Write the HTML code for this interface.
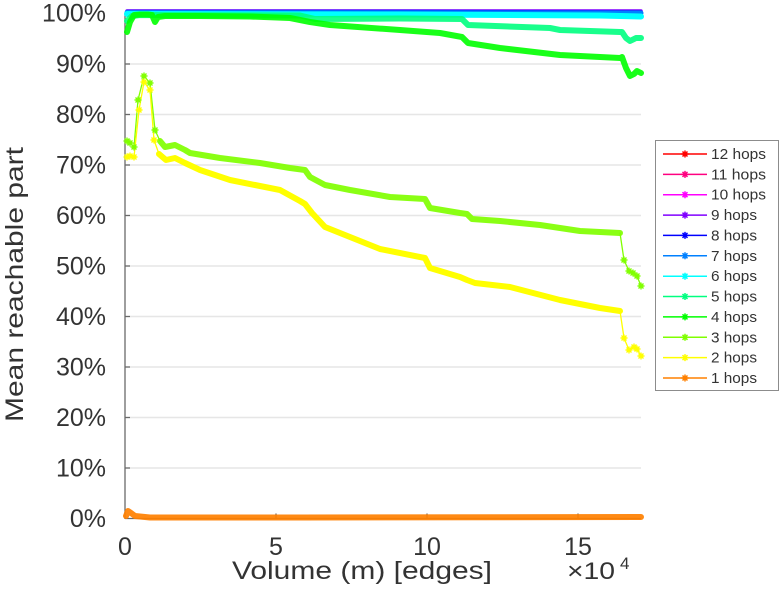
<!DOCTYPE html>
<html>
<head>
<meta charset="utf-8">
<style>
html,body{margin:0;padding:0;background:#fff;}
svg{display:block;font-family:"Liberation Sans",Arial,sans-serif;}
</style>
</head>
<body>
<svg width="781" height="600" viewBox="0 0 781 600" xmlns="http://www.w3.org/2000/svg">
<rect x="0" y="0" width="781" height="600" fill="#fff"/>
<!-- gridlines -->
<g stroke="#e6e6e6" stroke-width="1.5">
<line x1="125" y1="13.5" x2="641" y2="13.5"/>
<line x1="125" y1="64" x2="641" y2="64"/>
<line x1="125" y1="114.5" x2="641" y2="114.5"/>
<line x1="125" y1="165" x2="641" y2="165"/>
<line x1="125" y1="215.5" x2="641" y2="215.5"/>
<line x1="125" y1="266" x2="641" y2="266"/>
<line x1="125" y1="316.5" x2="641" y2="316.5"/>
<line x1="125" y1="367" x2="641" y2="367"/>
<line x1="125" y1="417.5" x2="641" y2="417.5"/>
<line x1="125" y1="468" x2="641" y2="468"/>
</g>
<!-- axes -->
<g stroke="#6a6a6a" stroke-width="1.3" fill="none">
<line x1="125" y1="12.5" x2="125" y2="519"/>
<line x1="125" y1="518.5" x2="641" y2="518.5"/>
<path d="M125 13.5h5M125 64h5M125 114.5h5M125 165h5M125 215.5h5M125 266h5M125 316.5h5M125 367h5M125 417.5h5M125 468h5M276 518.5v-5M427 518.5v-5M578 518.5v-5"/>
</g>
<!-- y tick labels -->
<g fill="#333" font-size="25" text-anchor="end">
<text x="106" y="21.5">100%</text>
<text x="106" y="72.5">90%</text>
<text x="106" y="123">80%</text>
<text x="106" y="173.5">70%</text>
<text x="106" y="224">60%</text>
<text x="106" y="274.5">50%</text>
<text x="106" y="325">40%</text>
<text x="106" y="375.5">30%</text>
<text x="106" y="426">20%</text>
<text x="106" y="476.5">10%</text>
<text x="106" y="527">0%</text>
</g>
<!-- x tick labels -->
<g fill="#333" font-size="25" text-anchor="middle">
<text x="125" y="555">0</text>
<text x="276" y="555">5</text>
<text x="427" y="555">10</text>
<text x="578" y="555">15</text>
</g>
<text x="232" y="579" fill="#333" font-size="25" textLength="260" lengthAdjust="spacingAndGlyphs">Volume (m) [edges]</text>
<text x="567" y="579" fill="#333" font-size="24" textLength="48" lengthAdjust="spacingAndGlyphs">×10</text>
<text x="620" y="569" fill="#333" font-size="17">4</text>
<text transform="translate(23,422) rotate(-90)" fill="#333" font-size="25" textLength="275" lengthAdjust="spacingAndGlyphs">Mean reachable part</text>

<!-- series near 100% -->
<g fill="none" stroke-linejoin="round" stroke-linecap="round">
<polyline stroke="#ff0000" stroke-width="3" points="127,11 641,11"/>
<polyline stroke="#ff0080" stroke-width="3" points="127,11 641,11"/>
<polyline stroke="#ff00ff" stroke-width="3" points="127,11 641,11"/>
<polyline stroke="#8000ff" stroke-width="3.5" points="127,11 641,11"/>
<polyline stroke="#0000ff" stroke-width="3.5" points="127,11.5 400,11.5 641,12"/>
<polyline stroke="#0080ff" stroke-width="5" points="127,12.5 641,13"/>
<polyline stroke="#00ffff" stroke-width="6" points="127,14 400,14.5 600,15.5 641,16.5"/>
<!-- 5 hops -->
<polyline stroke="#00ff80" stroke-width="6" stroke-opacity="0.9" points="127,21 132,16 140,15 300,15.5 315,19 400,18.5 462,19 468,25 550,28 560,30 620,32 622,32 626,38 630,41 636,38 641,38"/>
<!-- 4 hops -->
<polyline stroke="#00ff00" stroke-width="6" stroke-opacity="0.9" points="127,32 130,22 134,15 140,14.5 148,14.5 152,15 155,22 158,17 165,16 200,16 250,16.5 290,18 310,22 330,25 400,30 440,33 462,37 468,43 500,48 560,55 620,58 622,57 626,68 630,76 634,74 637,71 641,73"/>
</g>

<!-- 3 hops -->
<g fill="none" stroke="#80ff00" stroke-linejoin="round" stroke-linecap="round">
<polyline stroke-width="1.3" points="127,141 130,143 134,147 138,100 144,76 150,83 155,130 160,141"/>
<polyline stroke-width="6" stroke-opacity="0.92" points="160,141 165,147 175,145 185,150 190,153 220,158 260,163 290,168 305,170 310,177 325,185 350,190 390,197 425,199 430,208 460,213 467,214 472,219 500,221 540,225 580,231 620,233"/>
<polyline stroke-width="1.3" points="620,233 624,260 629,271 633,273 637,276 641,286"/>
</g>
<!-- 2 hops -->
<g fill="none" stroke="#ffff00" stroke-linejoin="round" stroke-linecap="round">
<polyline stroke-width="1.3" points="127,157 130,156 134,157 139,110 144,82 150,90 154,140 159,154"/>
<polyline stroke-width="6" points="159,154 166,160 175,158 185,163 200,170 230,180 255,185 280,190 300,201 305,204 312,213 325,227 350,237 380,249 425,258 430,268 460,277 467,280 475,283 510,287 560,300 600,308 620,311"/>
<polyline stroke-width="1.3" points="620,311 624,338 629,350 634,347 637,349 641,356"/>
</g>
<!-- 1 hops -->
<polyline fill="none" stroke="#ff8000" stroke-width="6" stroke-opacity="0.92" stroke-linejoin="round" stroke-linecap="round" points="126,516 128,511 131,513 135,516 150,517.5 300,517.5 641,517"/>

<!-- sparse star markers -->
<g fill="none" stroke-width="1.4">
<g stroke="#80ff00">
<path d="M127,141 m-3.5,0 h7 m-3.5,-3.5 v7 m-2.5,-6 l5,5 m0,-5 l-5,5"/>
<path d="M130,143 m-3.5,0 h7 m-3.5,-3.5 v7 m-2.5,-6 l5,5 m0,-5 l-5,5"/>
<path d="M134,147 m-3.5,0 h7 m-3.5,-3.5 v7 m-2.5,-6 l5,5 m0,-5 l-5,5"/>
<path d="M138,100 m-3.5,0 h7 m-3.5,-3.5 v7 m-2.5,-6 l5,5 m0,-5 l-5,5"/>
<path d="M144,76 m-3.5,0 h7 m-3.5,-3.5 v7 m-2.5,-6 l5,5 m0,-5 l-5,5"/>
<path d="M150,83 m-3.5,0 h7 m-3.5,-3.5 v7 m-2.5,-6 l5,5 m0,-5 l-5,5"/>
<path d="M155,130 m-3.5,0 h7 m-3.5,-3.5 v7 m-2.5,-6 l5,5 m0,-5 l-5,5"/>
<path d="M624,260 m-3.5,0 h7 m-3.5,-3.5 v7 m-2.5,-6 l5,5 m0,-5 l-5,5"/>
<path d="M629,271 m-3.5,0 h7 m-3.5,-3.5 v7 m-2.5,-6 l5,5 m0,-5 l-5,5"/>
<path d="M633,273 m-3.5,0 h7 m-3.5,-3.5 v7 m-2.5,-6 l5,5 m0,-5 l-5,5"/>
<path d="M637,276 m-3.5,0 h7 m-3.5,-3.5 v7 m-2.5,-6 l5,5 m0,-5 l-5,5"/>
<path d="M641,286 m-3.5,0 h7 m-3.5,-3.5 v7 m-2.5,-6 l5,5 m0,-5 l-5,5"/>
</g>
<g stroke="#ffff00">
<path d="M127,157 m-3.5,0 h7 m-3.5,-3.5 v7 m-2.5,-6 l5,5 m0,-5 l-5,5"/>
<path d="M130,156 m-3.5,0 h7 m-3.5,-3.5 v7 m-2.5,-6 l5,5 m0,-5 l-5,5"/>
<path d="M134,157 m-3.5,0 h7 m-3.5,-3.5 v7 m-2.5,-6 l5,5 m0,-5 l-5,5"/>
<path d="M139,110 m-3.5,0 h7 m-3.5,-3.5 v7 m-2.5,-6 l5,5 m0,-5 l-5,5"/>
<path d="M144,82 m-3.5,0 h7 m-3.5,-3.5 v7 m-2.5,-6 l5,5 m0,-5 l-5,5"/>
<path d="M150,90 m-3.5,0 h7 m-3.5,-3.5 v7 m-2.5,-6 l5,5 m0,-5 l-5,5"/>
<path d="M154,140 m-3.5,0 h7 m-3.5,-3.5 v7 m-2.5,-6 l5,5 m0,-5 l-5,5"/>
<path d="M624,338 m-3.5,0 h7 m-3.5,-3.5 v7 m-2.5,-6 l5,5 m0,-5 l-5,5"/>
<path d="M629,350 m-3.5,0 h7 m-3.5,-3.5 v7 m-2.5,-6 l5,5 m0,-5 l-5,5"/>
<path d="M634,347 m-3.5,0 h7 m-3.5,-3.5 v7 m-2.5,-6 l5,5 m0,-5 l-5,5"/>
<path d="M637,349 m-3.5,0 h7 m-3.5,-3.5 v7 m-2.5,-6 l5,5 m0,-5 l-5,5"/>
<path d="M641,356 m-3.5,0 h7 m-3.5,-3.5 v7 m-2.5,-6 l5,5 m0,-5 l-5,5"/>
</g>
</g>

<!-- legend -->
<rect x="655.5" y="140.5" width="123" height="250" fill="#fff" stroke="#8c8c8c" stroke-width="1"/>
<g stroke-width="1.5" fill="none">
<g stroke="#ff0000"><line x1="663" y1="154" x2="707" y2="154"/><path d="M685,154 m-3.5,0 h7 m-3.5,-3.5 v7 m-2.5,-6 l5,5 m0,-5 l-5,5"/></g>
<g stroke="#ff0080"><line x1="663" y1="174.4" x2="707" y2="174.4"/><path d="M685,174.4 m-3.5,0 h7 m-3.5,-3.5 v7 m-2.5,-6 l5,5 m0,-5 l-5,5"/></g>
<g stroke="#ff00ff"><line x1="663" y1="194.7" x2="707" y2="194.7"/><path d="M685,194.7 m-3.5,0 h7 m-3.5,-3.5 v7 m-2.5,-6 l5,5 m0,-5 l-5,5"/></g>
<g stroke="#8000ff"><line x1="663" y1="215.1" x2="707" y2="215.1"/><path d="M685,215.1 m-3.5,0 h7 m-3.5,-3.5 v7 m-2.5,-6 l5,5 m0,-5 l-5,5"/></g>
<g stroke="#0000ff"><line x1="663" y1="235.4" x2="707" y2="235.4"/><path d="M685,235.4 m-3.5,0 h7 m-3.5,-3.5 v7 m-2.5,-6 l5,5 m0,-5 l-5,5"/></g>
<g stroke="#0080ff"><line x1="663" y1="255.8" x2="707" y2="255.8"/><path d="M685,255.8 m-3.5,0 h7 m-3.5,-3.5 v7 m-2.5,-6 l5,5 m0,-5 l-5,5"/></g>
<g stroke="#00ffff"><line x1="663" y1="276.2" x2="707" y2="276.2"/><path d="M685,276.2 m-3.5,0 h7 m-3.5,-3.5 v7 m-2.5,-6 l5,5 m0,-5 l-5,5"/></g>
<g stroke="#00ff80"><line x1="663" y1="296.5" x2="707" y2="296.5"/><path d="M685,296.5 m-3.5,0 h7 m-3.5,-3.5 v7 m-2.5,-6 l5,5 m0,-5 l-5,5"/></g>
<g stroke="#00ff00"><line x1="663" y1="316.9" x2="707" y2="316.9"/><path d="M685,316.9 m-3.5,0 h7 m-3.5,-3.5 v7 m-2.5,-6 l5,5 m0,-5 l-5,5"/></g>
<g stroke="#80ff00"><line x1="663" y1="337.3" x2="707" y2="337.3"/><path d="M685,337.3 m-3.5,0 h7 m-3.5,-3.5 v7 m-2.5,-6 l5,5 m0,-5 l-5,5"/></g>
<g stroke="#ffff00"><line x1="663" y1="357.6" x2="707" y2="357.6"/><path d="M685,357.6 m-3.5,0 h7 m-3.5,-3.5 v7 m-2.5,-6 l5,5 m0,-5 l-5,5"/></g>
<g stroke="#ff8000"><line x1="663" y1="378" x2="707" y2="378"/><path d="M685,378 m-3.5,0 h7 m-3.5,-3.5 v7 m-2.5,-6 l5,5 m0,-5 l-5,5"/></g>
</g>
<g fill="#333" font-size="14.5">
<text x="711" y="159" textLength="55" lengthAdjust="spacingAndGlyphs">12 hops</text>
<text x="711" y="179.4" textLength="55" lengthAdjust="spacingAndGlyphs">11 hops</text>
<text x="711" y="199.7" textLength="55" lengthAdjust="spacingAndGlyphs">10 hops</text>
<text x="711" y="220.1" textLength="46" lengthAdjust="spacingAndGlyphs">9 hops</text>
<text x="711" y="240.4" textLength="46" lengthAdjust="spacingAndGlyphs">8 hops</text>
<text x="711" y="260.8" textLength="46" lengthAdjust="spacingAndGlyphs">7 hops</text>
<text x="711" y="281.2" textLength="46" lengthAdjust="spacingAndGlyphs">6 hops</text>
<text x="711" y="301.5" textLength="46" lengthAdjust="spacingAndGlyphs">5 hops</text>
<text x="711" y="321.9" textLength="46" lengthAdjust="spacingAndGlyphs">4 hops</text>
<text x="711" y="342.3" textLength="46" lengthAdjust="spacingAndGlyphs">3 hops</text>
<text x="711" y="362.6" textLength="46" lengthAdjust="spacingAndGlyphs">2 hops</text>
<text x="711" y="383" textLength="46" lengthAdjust="spacingAndGlyphs">1 hops</text>
</g>
</svg>
</body>
</html>
